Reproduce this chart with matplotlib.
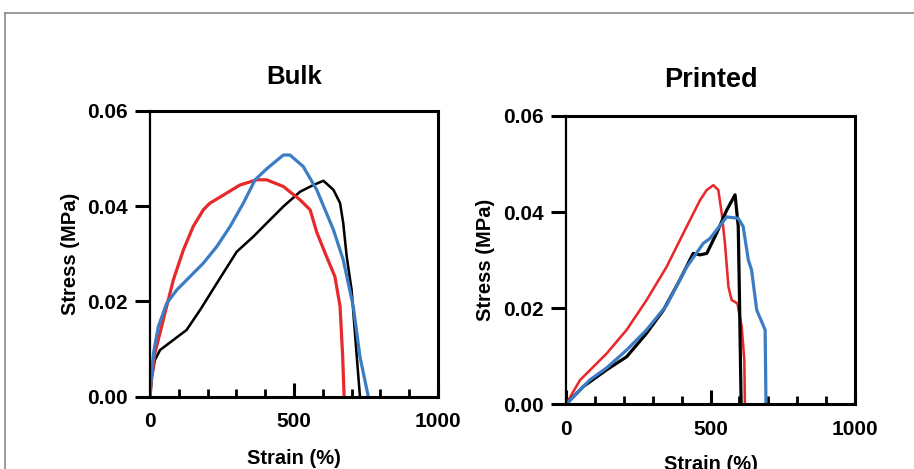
import matplotlib
matplotlib.use("Agg")
import matplotlib.pyplot as plt
from matplotlib.lines import Line2D
from matplotlib.ticker import MultipleLocator

plt.rcParams["font.family"] = ["Liberation Sans", "DejaVu Sans"]
plt.rcParams["font.weight"] = "bold"

RED = "#e8282b"
BLUE = "#3b7dc4"
BLACK = "#000000"

# Bulk samples (strain %, stress MPa)
bulk_red_x = [0, 6, 17, 46, 81, 116, 150, 185, 208, 255, 312, 370, 405, 463, 521, 556, 579, 613, 642,
              660, 669, 674]
bulk_red_y = [0, 0.004, 0.0091, 0.0161, 0.0245, 0.0308, 0.0357, 0.0392, 0.0406, 0.0423, 0.0444, 0.0455,
              0.0455, 0.0441, 0.0413, 0.0392, 0.0345, 0.0294, 0.0252, 0.0189, 0.0084, 0]

bulk_blue_x = [0, 6, 12, 29, 58, 93, 139, 185, 232, 278, 324, 365, 405, 463, 486, 532, 579, 637, 671,
               706, 729, 758]
bulk_blue_y = [0, 0.005, 0.0091, 0.0147, 0.0196, 0.0224, 0.0252, 0.028, 0.0315, 0.0357, 0.0406, 0.0455,
               0.0478, 0.0507, 0.0507, 0.0483, 0.0434, 0.035, 0.0287, 0.0189, 0.0084, 0]

bulk_black_x = [0, 6, 17, 35, 81, 127, 174, 232, 301, 359, 405, 463, 521, 567, 602, 637, 660, 671, 683,
                700, 718, 729]
bulk_black_y = [0, 0.004, 0.0077, 0.0098, 0.0119, 0.014, 0.0182, 0.0238, 0.0304, 0.0336, 0.0364, 0.0399,
                0.043, 0.0444, 0.0453, 0.0434, 0.0406, 0.0364, 0.0294, 0.0224, 0.0084, 0]

# Printed samples
printed_red_x = [0, 48, 141, 210, 279, 348, 406, 464, 487, 510, 527, 539, 550, 562, 573, 593, 608, 617, 619]
printed_red_y = [0, 0.005, 0.0106, 0.0155, 0.0217, 0.0286, 0.0356, 0.0425, 0.0446, 0.0456, 0.0446, 0.0397,
                 0.0335, 0.0245, 0.0217, 0.021, 0.0161, 0.0092, 0]

printed_black_x = [0, 60, 141, 210, 279, 337, 394, 440, 464, 487, 521, 556, 585, 596, 600, 606]
printed_black_y = [0, 0.0037, 0.0072, 0.0099, 0.0148, 0.0196, 0.0259, 0.0314, 0.0311, 0.0314, 0.0356,
                   0.0404, 0.0436, 0.037, 0.0231, 0]

printed_blue_x = [0, 83, 141, 210, 279, 348, 418, 475, 498, 556, 596, 613, 631, 642, 660, 689, 692]
printed_blue_y = [0, 0.0051, 0.0076, 0.0113, 0.0155, 0.0206, 0.0286, 0.0335, 0.0345, 0.039, 0.0387, 0.037,
                  0.03, 0.028, 0.0196, 0.0155, 0]

Y_TICKS = [0.0, 0.02, 0.04, 0.06]
Y_TICK_LABELS = ["0.00", "0.02", "0.04", "0.06"]
X_TICKS = [0, 500, 1000]


def style_axes(ax, title, title_size, title_pad, xlabel_pad, ylabel_pad):
    ax.set_xlim(0, 1000)
    ax.set_ylim(0, 0.06)
    ax.set_yticks(Y_TICKS)
    ax.set_yticklabels(Y_TICK_LABELS)
    ax.set_xticks(X_TICKS)
    ax.xaxis.set_minor_locator(MultipleLocator(100))
    ax.tick_params(axis="y", direction="out", length=11, width=2.2, labelsize=15, pad=5)
    ax.tick_params(axis="x", which="major", direction="in", length=10, width=2.2, labelsize=15, pad=11)
    ax.tick_params(axis="x", which="minor", direction="in", length=5.5, width=2.0)
    ax.tick_params(right=False, top=False)
    for side in ["top", "bottom", "right"]:
        ax.spines[side].set_linewidth(2.2)
    ax.spines["left"].set_linewidth(1.6)
    ax.set_title(title, fontsize=title_size, fontweight="bold", pad=title_pad)
    ax.set_xlabel("Strain (%)", fontsize=14.5, fontweight="bold", labelpad=xlabel_pad)
    ax.set_ylabel("Stress (MPa)", fontsize=14.5, fontweight="bold", labelpad=ylabel_pad)


fig = plt.figure(figsize=(9.14, 4.69), dpi=100)
ax1 = fig.add_axes([150 / 914, 1 - 396.7 / 469, 288 / 914, 286 / 469])
ax2 = fig.add_axes([566 / 914, 1 - 404.3 / 469, 289 / 914, 288.3 / 469])

lw = 2.3
ax1.plot(bulk_black_x, bulk_black_y, color=BLACK, lw=lw * 0.8, solid_joinstyle="round")
ax1.plot(bulk_red_x, bulk_red_y, color=RED, lw=lw, solid_joinstyle="round")
ax1.plot(bulk_blue_x, bulk_blue_y, color=BLUE, lw=lw, solid_joinstyle="round")
style_axes(ax1, "Bulk", 18.5, 19.5, 13, 5)

ax2.plot(printed_red_x, printed_red_y, color=RED, lw=lw * 0.8, solid_joinstyle="round")
ax2.plot(printed_black_x, printed_black_y, color=BLACK, lw=lw, solid_joinstyle="round")
ax2.plot(printed_blue_x, printed_blue_y, color=BLUE, lw=lw, solid_joinstyle="round")
style_axes(ax2, "Printed", 19.5, 21, 12, 6)

# grey frame lines along the top and left edges
fig.add_artist(Line2D([5 / 914, 1], [1 - 13 / 469, 1 - 13 / 469], color="#8a8a8a", lw=1.2))
fig.add_artist(Line2D([5 / 914, 5 / 914], [0, 1 - 13 / 469], color="#8a8a8a", lw=1.2))

fig.savefig("out.png", dpi=100)
